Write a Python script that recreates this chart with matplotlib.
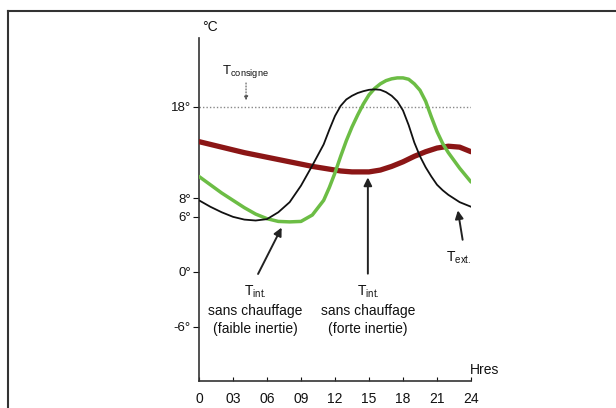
import matplotlib
matplotlib.use('Agg')
import matplotlib.pyplot as plt
from matplotlib.lines import Line2D

plt.rcParams['font.family'] = ['Liberation Sans', 'DejaVu Sans']
plt.rcParams['mathtext.fontset'] = 'custom'
plt.rcParams['mathtext.rm'] = 'Liberation Sans'
plt.rcParams['mathtext.it'] = 'Liberation Sans'

# heures de la journee
hours = [0, 1, 2, 3, 4, 5, 6, 7, 8, 9, 10, 11, 11.5, 12, 12.5, 13, 13.5, 14, 14.5, 15,
         15.5, 16, 16.5, 17, 17.5, 18, 18.5, 19, 19.5, 20, 20.5, 21, 21.5, 22, 23, 24]

# temperature exterieure (noir)
t_ext = [7.8, 7.1, 6.5, 6.0, 5.7, 5.6, 5.75, 6.5, 7.6, 9.4, 11.6, 13.9, 15.5, 17.0, 18.1,
         18.8, 19.2, 19.5, 19.7, 19.85, 19.9, 19.85, 19.6, 19.2, 18.6, 17.6, 16.0, 14.1,
         12.6, 11.4, 10.4, 9.5, 8.9, 8.4, 7.6, 7.1]

# T int. sans chauffage, faible inertie (vert)
t_faible = [10.4, 9.5, 8.6, 7.8, 7.0, 6.3, 5.8, 5.5, 5.45, 5.5, 6.2, 7.8, 9.2, 10.8, 12.6,
            14.3, 15.8, 17.1, 18.3, 19.3, 20.0, 20.5, 20.85, 21.05, 21.15, 21.15, 21.0,
            20.5, 19.8, 18.6, 16.9, 15.3, 14.0, 13.0, 11.3, 9.8]

# T int. sans chauffage, forte inertie (rouge)
t_forte = [14.2, 13.9, 13.6, 13.3, 13.0, 12.75, 12.5, 12.25, 12.0, 11.75, 11.5, 11.3, 11.2,
           11.1, 11.0, 10.95, 10.9, 10.9, 10.9, 10.9, 11.0, 11.1, 11.3, 11.5, 11.75, 12.0,
           12.3, 12.6, 12.85, 13.1, 13.3, 13.5, 13.6, 13.7, 13.6, 13.1]

t_consigne = 18
x_ticks = [0, 3, 6, 9, 12, 15, 18, 21, 24]
x_labels = ['0', '03', '06', '09', '12', '15', '18', '21', '24']
y_ticks = [-6, 0, 6, 8, 18]
y_labels = ['-6°', '0°', '6°', '8°', '18°']

W, H = 616, 408
fig = plt.figure(figsize=(W / 100, H / 100), dpi=100)
ax = fig.add_axes([199 / W, 1 - 381 / H, 272 / W, 343 / H])

ax.plot([0, 24], [t_consigne, t_consigne], color='#888888', lw=1, linestyle=(0, (1, 1.5)))
ax.plot(hours, t_forte, color='#8b1616', lw=3.8, solid_capstyle='round', zorder=3)
ax.plot(hours, t_faible, color='#6cbd45', lw=2.5, solid_capstyle='round',
        solid_joinstyle='round', zorder=4)
ax.plot(hours, t_ext, color='#111111', lw=1.3, solid_joinstyle='round', zorder=5)

ax.set_xlim(0, 24)
ax.set_ylim(-11.9, 25.5)
ax.set_xticks(x_ticks)
ax.set_xticklabels(x_labels)
ax.set_yticks(y_ticks)
ax.set_yticklabels(y_labels)
ax.tick_params(axis='x', direction='in', length=3, width=0.8, pad=8, labelsize=10, colors='#111111')
ax.tick_params(axis='y', direction='out', length=4, width=0.8, pad=2, labelsize=9.5, colors='#111111')
for s in ['top', 'right']:
    ax.spines[s].set_visible(False)
for s in ['left', 'bottom']:
    ax.spines[s].set_color('#333333')
    ax.spines[s].set_linewidth(1.2)
ax.patch.set_alpha(0)

txt = '#111111'
arrow = dict(arrowstyle='-|>', color='#222222', lw=1.4, mutation_scale=12)

# T consigne
ax.text(2.0, 21.8, r'T$_{\mathrm{consigne}}$', fontsize=9.5, color=txt, va='center')
ax.annotate('', xy=(4.15, 18.4), xytext=(4.15, 20.9),
            arrowprops=dict(arrowstyle='-|>', color='#555555', lw=0.8, linestyle=':', mutation_scale=6))

# faible inertie
ax.annotate('', xy=(7.4, 5.1), xytext=(5.1, -0.5), arrowprops=arrow)
ax.text(5.0, -2.2, r'T$_{\mathrm{int.}}$', fontsize=10, color=txt, ha='center', va='center')
ax.text(5.0, -4.25, 'sans chauffage', fontsize=10, color=txt, ha='center', va='center')
ax.text(5.0, -6.2, '(faible inertie)', fontsize=10, color=txt, ha='center', va='center')

# forte inertie
ax.annotate('', xy=(14.9, 10.6), xytext=(14.9, -0.5), arrowprops=arrow)
ax.text(14.9, -2.2, r'T$_{\mathrm{int.}}$', fontsize=10, color=txt, ha='center', va='center')
ax.text(14.9, -4.25, 'sans chauffage', fontsize=10, color=txt, ha='center', va='center')
ax.text(14.9, -6.2, '(forte inertie)', fontsize=10, color=txt, ha='center', va='center')

# T ext
ax.annotate('', xy=(22.8, 7.0), xytext=(23.3, 3.2), arrowprops=arrow)
ax.text(22.9, 1.5, r'T$_{\mathrm{ext.}}$', fontsize=10, color=txt, ha='center', va='center')

ax.text(25.2, -10.7, 'Hres', fontsize=10, color=txt, ha='center', va='center', clip_on=False)
fig.text(210 / W, 1 - 27 / H, '°C', fontsize=10, color=txt, ha='center', va='center')

# cadre
fig.add_artist(Line2D([8 / W, 1], [1 - 11 / H, 1 - 11 / H], color='#333333', lw=1.5))
fig.add_artist(Line2D([8 / W, 8 / W], [0, 1 - 11 / H], color='#333333', lw=1.5))

fig.savefig('out.png', dpi=100)
